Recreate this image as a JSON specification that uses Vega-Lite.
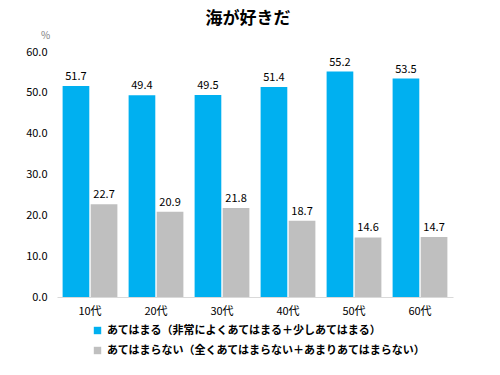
{
  "$schema": "https://vega.github.io/schema/vega-lite/v6.json",
  "width": 396,
  "height": 245,
  "autosize": {"type": "none"},
  "padding": {"left": 57, "top": 52, "right": 47, "bottom": 78},
  "background": "white",
  "title": {
    "text": "海が好きだ",
    "font": "Noto Sans CJK JP",
    "fontSize": 17,
    "fontWeight": "bold",
    "color": "#000000",
    "anchor": "middle",
    "frame": "group",
    "dx": -7,
    "offset": 2
  },
  "data": {
    "values": [
      {"age": "10代", "series": "あてはまる（非常によくあてはまる＋少しあてはまる）", "value": 51.7},
      {"age": "10代", "series": "あてはまらない（全くあてはまらない＋あまりあてはまらない）", "value": 22.7},
      {"age": "20代", "series": "あてはまる（非常によくあてはまる＋少しあてはまる）", "value": 49.4},
      {"age": "20代", "series": "あてはまらない（全くあてはまらない＋あまりあてはまらない）", "value": 20.9},
      {"age": "30代", "series": "あてはまる（非常によくあてはまる＋少しあてはまる）", "value": 49.5},
      {"age": "30代", "series": "あてはまらない（全くあてはまらない＋あまりあてはまらない）", "value": 21.8},
      {"age": "40代", "series": "あてはまる（非常によくあてはまる＋少しあてはまる）", "value": 51.4},
      {"age": "40代", "series": "あてはまらない（全くあてはまらない＋あまりあてはまらない）", "value": 18.7},
      {"age": "50代", "series": "あてはまる（非常によくあてはまる＋少しあてはまる）", "value": 55.2},
      {"age": "50代", "series": "あてはまらない（全くあてはまらない＋あまりあてはまらない）", "value": 14.6},
      {"age": "60代", "series": "あてはまる（非常によくあてはまる＋少しあてはまる）", "value": 53.5},
      {"age": "60代", "series": "あてはまらない（全くあてはまらない＋あまりあてはまらない）", "value": 14.7}
    ]
  },
  "encoding": {
    "x": {
      "field": "age",
      "type": "nominal",
      "sort": null,
      "scale": {"paddingInner": 0.17, "paddingOuter": 0.085},
      "axis": {
        "title": null,
        "labelAngle": 0,
        "labelFont": "Noto Sans CJK JP",
        "labelFontSize": 11,
        "labelColor": "#000000",
        "labelPadding": 8,
        "ticks": false,
        "domainColor": "#D9D9D9",
        "domainWidth": 1
      }
    },
    "xOffset": {
      "field": "series",
      "type": "nominal",
      "sort": ["あてはまる（非常によくあてはまる＋少しあてはまる）", "あてはまらない（全くあてはまらない＋あまりあてはまらない）"],
      "scale": {"paddingInner": 0.05}
    },
    "y": {
      "field": "value",
      "type": "quantitative",
      "scale": {"domain": [0, 60]},
      "axis": {
        "title": "%",
        "titleAngle": 0,
        "titleX": -12,
        "titleY": -12,
        "titleFont": "Noto Sans CJK JP",
        "titleFontSize": 10,
        "titleFontWeight": "normal",
        "titleColor": "#808080",
        "titleAlign": "center",
        "values": [0, 10, 20, 30, 40, 50, 60],
        "format": ".1f",
        "labelFont": "Noto Sans CJK JP",
        "labelFontSize": 11,
        "labelColor": "#000000",
        "labelPadding": 10,
        "grid": false,
        "ticks": false,
        "domain": false
      }
    }
  },
  "layer": [
    {
      "mark": {"type": "bar"},
      "encoding": {
        "color": {
          "field": "series",
          "type": "nominal",
          "sort": ["あてはまる（非常によくあてはまる＋少しあてはまる）", "あてはまらない（全くあてはまらない＋あまりあてはまらない）"],
          "scale": {
            "domain": ["あてはまる（非常によくあてはまる＋少しあてはまる）", "あてはまらない（全くあてはまらない＋あまりあてはまらない）"],
            "range": ["#00B0F0", "#BFBFBF"]
          },
          "legend": {
            "title": null,
            "orient": "none",
            "legendX": 35,
            "legendY": 273,
            "direction": "vertical",
            "symbolType": "square",
            "symbolSize": 55,
            "symbolStrokeWidth": 0,
            "labelFont": "Noto Sans CJK JP",
            "labelFontSize": 11,
            "labelFontWeight": "bold",
            "labelColor": "#000000",
            "labelLimit": 500,
            "labelOffset": 4,
            "rowPadding": 8
          }
        }
      }
    },
    {
      "mark": {
        "type": "text",
        "dy": -9,
        "font": "Noto Sans CJK JP",
        "fontSize": 11,
        "color": "#000000"
      },
      "encoding": {
        "text": {"field": "value", "type": "quantitative", "format": ".1f"}
      }
    }
  ],
  "config": {"view": {"stroke": null}}
}
